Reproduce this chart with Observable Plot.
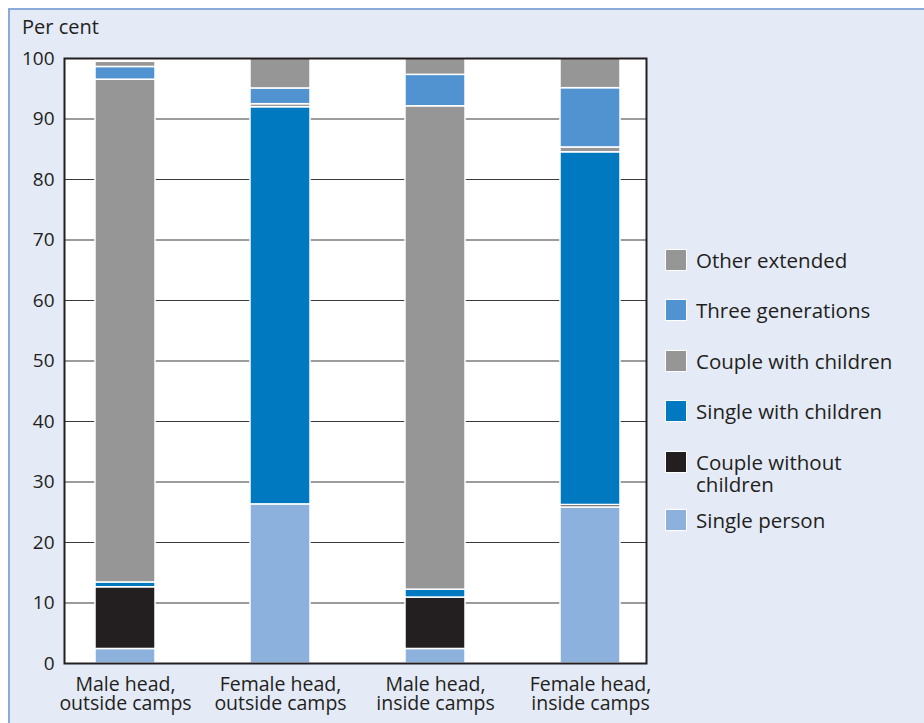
<!DOCTYPE html>
<html><head><meta charset="utf-8">
<script src="https://cdn.jsdelivr.net/npm/d3@7"></script>
<script src="https://cdn.jsdelivr.net/npm/@observablehq/plot@0.6"></script>
<style>
html,body{margin:0;background:#fff;font-family:"Open Sans",sans-serif;color:#231f20;overflow:hidden;width:924px;height:723px;}
#panel{position:absolute;left:8px;top:8px;width:916px;height:715px;background:#e4eaf6;border-left:2px solid #8aabd9;border-top:2px solid #8aabd9;box-sizing:border-box;}
#chart{position:absolute;left:0;top:0;}
#ylabel{position:absolute;left:22px;top:13px;font-size:20px;}
#legend{position:absolute;left:665px;top:249px;font-size:20.5px;}
.item{display:flex;align-items:flex-start;line-height:22px;margin-bottom:28.4px;}
.item.two{margin-bottom:14px;}
.sw{width:20px;height:20px;border:1px solid #fff;box-sizing:content-box;margin-right:9px;flex:none;}
</style>
</head><body>
<div id="panel"></div>
<div id="chart"></div>
<div id="ylabel">Per cent</div>
<div id="legend"></div>
<script>
const categories = ["Male head, outside camps","Female head, outside camps","Male head, inside camps","Female head, inside camps"];
const categoryLabels = ["Male head,\noutside camps","Female head,\noutside camps","Male head,\ninside camps","Female head,\ninside camps"];
const series = ["Single person","Couple without children","Single with children","Couple with children","Three generations","Other extended"];
const colors = ["#8db1dd","#231f20","#0079c1","#969696","#5193d0","#969696"];
const singlePerson       = [2.4, 26.3, 2.4, 25.8];
const coupleWithout      = [10.2, 0, 8.5, 0.4];
const singleWithChildren = [0.8, 65.65, 1.3, 58.3];
const coupleWithChildren = [83.1, 0.5, 79.9, 0.8];
const threeGenerations   = [2.1, 2.6, 5.2, 9.8];
const otherExtended      = [0.85, 4.95, 2.7, 4.9];
const yTicks = [0,10,20,30,40,50,60,70,80,90,100];
const legendOrder = ["Other extended","Three generations","Couple with children","Single with children","Couple without children","Single person"];
const legendLabels = {"Couple without children":"Couple without<br>children"};

const seriesValues = [singlePerson, coupleWithout, singleWithChildren, coupleWithChildren, threeGenerations, otherExtended];
const data = [];
categories.forEach((c, i) => series.forEach((s, j) => data.push({cat: c, series: s, value: seriesValues[j][i]})));
const labelLine = (d, k) => categoryLabels[categories.indexOf(d)].split("\n")[k];

const chart = Plot.plot({
  width: 924, height: 723,
  marginLeft: 64, marginTop: 58, marginRight: 278, marginBottom: 60,
  style: {background: "transparent", fontFamily: "Open Sans", fontSize: "19px", color: "#231f20"},
  x: {domain: categories, paddingInner: 0.6146, paddingOuter: 0.177, align: 0.545, label: null, axis: null},
  y: {domain: [0, 100], label: null},
  color: {domain: series, range: colors},
  marks: [
    Plot.frame({fill: "white", stroke: null}),
    Plot.gridY(yTicks.filter(t => t > 0 && t < 100), {stroke: "#3a3a3a", strokeOpacity: 1, strokeWidth: 1.2}),
    Plot.barY(data, {x: "cat", y: "value", fill: "series", stroke: "white", strokeWidth: 1.5, order: series}),
    Plot.frame({stroke: "#231f20", strokeWidth: 2}),
    Plot.axisY(yTicks, {tickSize: 0, tickPadding: 10, fontSize: 19, label: null, fill: "#231f20"}),
    Plot.text(categories, {x: d => d, frameAnchor: "bottom", lineAnchor: "top", dy: 14,
      text: d => labelLine(d, 0), fontSize: 19.5, fill: "#231f20"}),
    Plot.text(categories, {x: d => d, frameAnchor: "bottom", lineAnchor: "top", dy: 33,
      text: d => labelLine(d, 1), fontSize: 19.5, fill: "#231f20"})
  ]
});
document.getElementById("chart").append(chart);

const legend = document.getElementById("legend");
legendOrder.forEach(s => {
  const it = document.createElement("div");
  it.className = "item" + (legendLabels[s] ? " two" : "");
  it.innerHTML = `<div class="sw" style="background:${colors[series.indexOf(s)]}"></div><div>${legendLabels[s] || s}</div>`;
  legend.append(it);
});
</script>
</body></html>
